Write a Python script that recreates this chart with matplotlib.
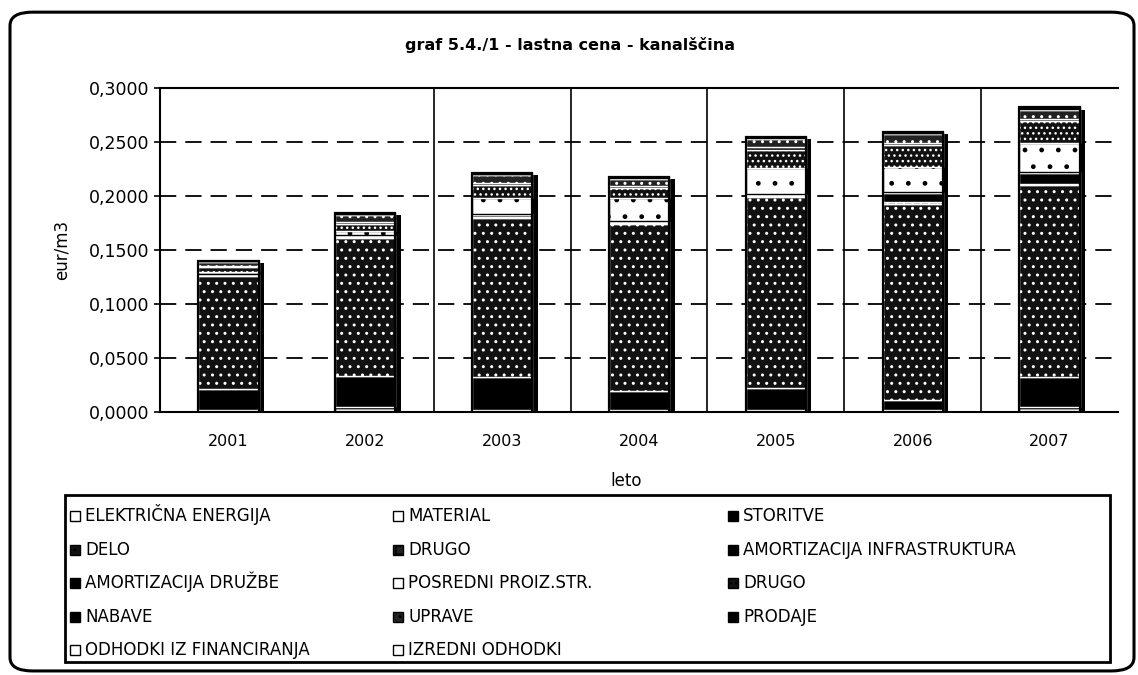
import matplotlib
matplotlib.use("Agg")
import matplotlib.pyplot as plt
from matplotlib.patches import FancyBboxPatch, Rectangle
import numpy as np

plt.rcParams['font.family'] = ['DejaVu Sans']

years = ['2001', '2002', '2003', '2004', '2005', '2006', '2007']

series_names = [
    'ELEKTRIČNA ENERGIJA', 'MATERIAL', 'STORITVE',
    'DELO', 'DRUGO', 'AMORTIZACIJA INFRASTRUKTURA',
    'AMORTIZACIJA DRUŽBE', 'POSREDNI PROIZ.STR.', 'DRUGO',
    'NABAVE', 'UPRAVE', 'PRODAJE',
    'ODHODKI IZ FINANCIRANJA', 'IZREDNI ODHODKI',
]

elektricna_energija = [0.0010, 0.0040, 0.0010, 0.0010, 0.0010, 0.0010, 0.0040]
material            = [0.0005, 0.0010, 0.0010, 0.0010, 0.0010, 0.0010, 0.0010]
storitve            = [0.0200, 0.0280, 0.0300, 0.0170, 0.0200, 0.0090, 0.0270]
delo                = [0.1040, 0.1280, 0.1480, 0.1550, 0.1770, 0.1820, 0.1780]
drugo_1             = [0.0010, 0.0010, 0.0010, 0.0010, 0.0010, 0.0010, 0.0010]
amort_infra         = [0.0005, 0.0010, 0.0010, 0.0010, 0.0010, 0.0090, 0.0100]
amort_druzbe        = [0.0010, 0.0010, 0.0010, 0.0010, 0.0010, 0.0010, 0.0010]
posredni            = [0.0020, 0.0040, 0.0150, 0.0210, 0.0240, 0.0230, 0.0270]
drugo_2             = [0.0040, 0.0060, 0.0120, 0.0090, 0.0170, 0.0200, 0.0200]
nabave              = [0.0010, 0.0020, 0.0020, 0.0020, 0.0020, 0.0020, 0.0020]
uprave              = [0.0040, 0.0060, 0.0070, 0.0070, 0.0080, 0.0080, 0.0090]
prodaje             = [0.0005, 0.0010, 0.0010, 0.0010, 0.0010, 0.0010, 0.0010]
odhodki_fin         = [0.0003, 0.0005, 0.0005, 0.0005, 0.0005, 0.0005, 0.0005]
izredni             = [0.0002, 0.0005, 0.0005, 0.0005, 0.0005, 0.0005, 0.0005]

series_values = [elektricna_energija, material, storitve, delo, drugo_1, amort_infra,
                 amort_druzbe, posredni, drugo_2, nabave, uprave, prodaje,
                 odhodki_fin, izredni]

yticks = [0.0, 0.05, 0.10, 0.15, 0.20, 0.25, 0.30]
ytick_labels = ['0,0000', '0,0500', '0,1000', '0,1500', '0,2000', '0,2500', '0,3000']

# style per series: (facecolor, edgecolor/hatch colour, hatch)
styles = [
    ('white', 'black', None),
    ('white', 'black', None),
    ('black', 'white', None),
    ('#111111', 'white', '..'),
    ('#222222', 'white', '++'),
    ('black', 'white', None),
    ('black', 'white', None),
    ('white', 'black', '.'),
    ('#111111', 'white', '...'),
    ('black', 'white', None),
    ('#222222', 'white', '..'),
    ('black', 'white', None),
    ('white', 'black', None),
    ('white', 'black', None),
]

W, H = 1138, 675
fig = plt.figure(figsize=(W / 100, H / 100), dpi=100)


def fx(px):
    return px / W


def fy(py):
    return 1 - py / H


# outer rounded frame
frame = FancyBboxPatch((fx(10), 0.006), fx(1124), 0.976,
                       boxstyle="round,pad=0,rounding_size=0.02",
                       transform=fig.transFigure, fill=False,
                       edgecolor='black', linewidth=2.2, zorder=0)
fig.patches.append(frame)

ax = fig.add_axes([fx(160), fy(412), fx(958), 324 / H])

x = np.arange(len(years))
width = 0.44
vals = np.array(series_values)
totals = vals.sum(axis=0)

# horizontal dashed gridlines
for yv in yticks[1:-1]:
    ax.axhline(yv, color='black', linewidth=1.3, linestyle=(0, (9, 5)), zorder=1)
# vertical separators
for xv in [1.5, 2.5, 3.5, 4.5, 5.5]:
    ax.axvline(xv, color='black', linewidth=1.2, zorder=1)

# shadow
ax.bar(x + 0.04, totals - 0.002, width, color='black', zorder=2)

bottom = np.zeros(len(years))
for vals_i, (fc, ec, hatch) in zip(series_values, styles):
    ax.bar(x, vals_i, width, bottom=bottom, facecolor=fc, edgecolor=ec,
           hatch=hatch, linewidth=1.0, zorder=3)
    bottom += np.array(vals_i)

ax.bar(x, totals, width, fill=False, edgecolor='black', linewidth=1.6, zorder=4)

ax.set_xlim(-0.5, len(years) - 0.5)
ax.set_ylim(0, 0.30)
ax.set_yticks(yticks)
ax.set_yticklabels(ytick_labels, fontsize=12.5)
ax.set_xticks(x)
ax.set_xticklabels(years, fontsize=11.5)
ax.tick_params(axis='x', length=0, pad=16)
ax.tick_params(axis='y', length=4, width=1.2, pad=4)
ax.spines['right'].set_visible(False)
for s in ['left', 'bottom', 'top']:
    ax.spines[s].set_linewidth(1.5)

fig.text(fx(570), fy(45), 'graf 5.4./1 - lastna cena - kanalščina',
         ha='center', va='center', fontsize=11.5, fontweight='bold')
fig.text(fx(62), fy(250), 'eur/m3', rotation=90, ha='center', va='center', fontsize=12)
fig.text(fx(626), fy(481), 'leto', ha='center', va='center', fontsize=12)

# legend box (row by row, 3 columns)
fig.patches.append(Rectangle((fx(65), fy(662)), fx(1110) - fx(65), fy(495) - fy(662),
                             transform=fig.transFigure, fill=False,
                             edgecolor='black', linewidth=2.0, zorder=5))
col_x = [70, 393, 728]
row_y = [516, 550, 583, 617, 650]
sq = 10
for i, name in enumerate(series_names):
    r, c = divmod(i, 3)
    fc, ec, h = styles[i]
    hx, hy = col_x[c], row_y[r]
    fig.patches.append(Rectangle((fx(hx), fy(hy + sq / 2)), sq / W, sq / H,
                                 transform=fig.transFigure, facecolor=fc,
                                 edgecolor='black', hatch=h, linewidth=1.0, zorder=6))
    fig.text(fx(hx + sq + 5), fy(hy + 5), name, ha='left', va='baseline', fontsize=12)

fig.savefig('out.png', dpi=100)
